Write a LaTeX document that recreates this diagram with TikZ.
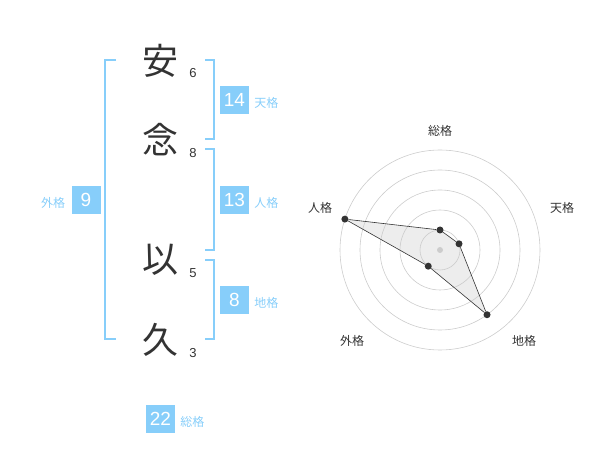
\documentclass[tikz,border=0pt]{standalone}
\usepackage{fontspec}
\setmainfont{Liberation Sans}
\newfontfamily\jp{Noto Sans CJK JP}
\usetikzlibrary{positioning,backgrounds}
\definecolor{sky}{HTML}{87CEFA}
\definecolor{ink}{HTML}{333333}
\definecolor{ring}{HTML}{CCCCCC}
\tikzstyle{kanji}=[text=ink,inner sep=0pt,font=\jp\fontsize{36}{36}\selectfont]
\tikzstyle{strokes}=[text=ink,inner sep=0pt,font=\fontsize{13}{13}\selectfont]
\tikzstyle{score}=[fill=sky,text=white,inner sep=0pt,minimum width=29pt,minimum height=28pt,font=\fontsize{19}{19}\selectfont]
\tikzstyle{kaku}=[text=sky,inner sep=0pt,yshift=-3pt,font=\jp\fontsize{12}{12}\selectfont]
\tikzstyle{bracket}=[draw=sky,line width=2pt]
\tikzstyle{axislabel}=[text=ink,inner sep=0pt,font=\jp\fontsize{12}{12}\selectfont]
\tikzstyle{dot}=[circle,fill=ink,inner sep=0pt,minimum size=7pt]

\begin{document}
\begin{tikzpicture}[x=1pt,y=-1pt]
\useasboundingbox (0,0) rectangle (600,470);

% name
\node[kanji] (c1) at (160,61) {安};
\node[kanji] (c2) at (160,140) {念};
\node[kanji] (c3) at (160,260) {以};
\node[kanji] (c4) at (160,340) {久};
\node[strokes] (n1) at (193,73) {6};
\node[strokes] (n2) at (193,153) {8};
\node[strokes] (n3) at (193,273) {5};
\node[strokes] (n4) at (193,353) {3};

\draw[bracket] (116,60) -- (105,60) -- (105,339) -- (116,339);
\draw[bracket] (205,60) -- (214,60) -- (214,139) -- (205,139);
\draw[bracket] (205,149) -- (214,149) -- (214,250) -- (205,250);
\draw[bracket] (205,260) -- (214,260) -- (214,339) -- (205,339);

\node[score] (ten) at (234.5,100) {14};
\node[score] (jin) at (234.5,200) {13};
\node[score] (chi) at (234.5,300) {8};
\node[score] (gai) at (86,200) {9};
\node[score] (sou) at (160.5,419) {22};
\node[kaku,right=5pt of ten] (tenl) {天格};
\node[kaku,right=5pt of jin] (jinl) {人格};
\node[kaku,right=5pt of chi] (chil) {地格};
\node[kaku,left=6pt of gai] (gail) {外格};
\node[kaku,right=5pt of sou] (soul) {総格};

% radar
\coordinate (ctr) at (440,250);
\foreach \r in {20,40,...,100}
  \draw[ring,line width=0.6pt] (ctr) circle[radius=\r];
\fill[ring] (ctr) circle[radius=3];
\node[axislabel] (a1) at (440,131) {総格};
\node[axislabel] (a2) at (562,208) {天格};
\node[axislabel] (a3) at (524,341) {地格};
\node[axislabel] (a4) at (352,341) {外格};
\node[axislabel] (a5) at (320,208) {人格};
\foreach \name/\ang/\val in {p1/-90/1,p2/-18/1,p3/54/4,p4/126/1,p5/198/5}
  \node[dot] (\name) at ([shift={(\ang:\val*20)}]ctr) {};
\begin{scope}[on background layer]
\fill[black!7] (p1.center) -- (p2.center) -- (p3.center) -- (p4.center) -- (p5.center) -- cycle;
\end{scope}
\draw[ink,line width=0.6pt] (p1) -- (p2) -- (p3) -- (p4) -- (p5) -- (p1);
\end{tikzpicture}
\end{document}
